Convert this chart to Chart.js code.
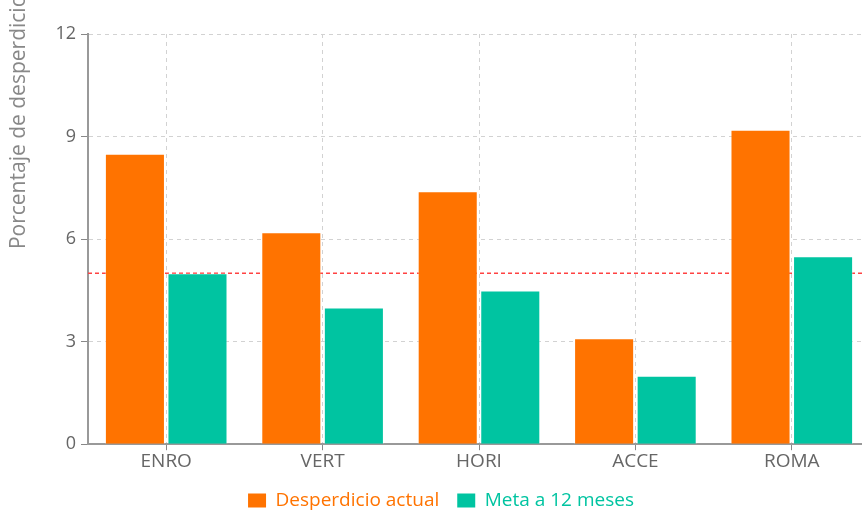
<!DOCTYPE html>
<html>
<head>
<meta charset="utf-8">
<script src="https://cdn.jsdelivr.net/npm/chart.js@4.4.1/dist/chart.umd.min.js"></script>
<style>
    html, body { margin: 0; padding: 0; background: #fff; overflow: hidden; }
    #wrap { width: 880px; height: 514px; }
</style>
</head>
<body>
<div id="wrap"><canvas id="chart"></canvas></div>
<script>
const categories = ['ENRO', 'VERT', 'HORI', 'ACCE', 'ROMA'];
const actualValues = [8.5, 6.2, 7.4, 3.1, 9.2];
const goalValues = [5.0, 4.0, 4.5, 2.0, 5.5];
const yTicks = [0, 3, 6, 9, 12];
const limitValue = 5;

const orange = '#ff7300';
const teal = '#00c4a1';
const axisTitle = 'Porcentaje de desperdicio (%)';

// linea roja punteada del limite, debajo de las barras
const limitLine = {
    id: 'limitLine',
    beforeDatasetsDraw(chart) {
        const { ctx, chartArea, scales } = chart;
        const y = scales.y.getPixelForValue(limitValue);
        ctx.save();
        ctx.strokeStyle = '#ff4242';
        ctx.lineWidth = 1.5;
        ctx.setLineDash([4, 3]);
        ctx.beginPath();
        ctx.moveTo(chartArea.left, y);
        ctx.lineTo(chartArea.right, y);
        ctx.stroke();
        ctx.restore();
    }
};

// titulo del eje y, empieza cerca del centro y sube
const yTitle = {
    id: 'yTitle',
    afterDraw(chart) {
        const { ctx, chartArea } = chart;
        const y = (chartArea.top + chartArea.bottom) / 2 + 10;
        ctx.save();
        ctx.translate(19, y);
        ctx.rotate(-Math.PI / 2);
        ctx.font = '21px "Open Sans", sans-serif';
        ctx.fillStyle = '#888';
        ctx.textAlign = 'left';
        ctx.textBaseline = 'middle';
        ctx.fillText(axisTitle, 0, 0);
        ctx.restore();
    }
};

Chart.defaults.font.family = '"Open Sans", sans-serif';
Chart.defaults.color = '#666';

new Chart(document.getElementById('chart'), {
    type: 'bar',
    data: {
        labels: categories,
        datasets: [
            {
                label: 'Desperdicio actual',
                data: actualValues,
                backgroundColor: orange,
                borderColor: 'rgba(255,255,255,0.35)',
                borderWidth: 1,
                categoryPercentage: 0.8,
                barPercentage: 0.96
            },
            {
                label: 'Meta a 12 meses',
                data: goalValues,
                backgroundColor: teal,
                borderColor: 'rgba(255,255,255,0.35)',
                borderWidth: 1,
                categoryPercentage: 0.8,
                barPercentage: 0.96
            }
        ]
    },
    options: {
        responsive: true,
        maintainAspectRatio: false,
        animation: false,
        layout: { padding: { left: 12, right: 10, top: 34, bottom: -6 } },
        scales: {
            x: {
                grid: {
                    offset: false,
                    color: '#d2d2d2',
                    tickColor: '#888',
                    tickLength: 6,
                    tickBorderDash: []
                },
                border: { color: '#999', width: 2, dash: [4, 4] },
                ticks: { font: { size: 19 }, color: '#666', padding: 0 }
            },
            y: {
                min: 0,
                max: 12,
                afterBuildTicks(scale) {
                    scale.ticks = yTicks.map(v => ({ value: v }));
                },
                afterFit(scale) {
                    scale.width = 76;
                },
                grid: {
                    color: '#d2d2d2',
                    tickColor: '#888',
                    tickLength: 7,
                    tickBorderDash: []
                },
                border: { color: '#999', width: 2, dash: [4, 4] },
                ticks: { font: { size: 18 }, color: '#666', padding: 5 }
            }
        },
        plugins: {
            legend: {
                position: 'bottom',
                labels: {
                    boxWidth: 18,
                    boxHeight: 14,
                    padding: 18,
                    font: { size: 19 },
                    generateLabels(chart) {
                        return chart.data.datasets.map((ds, i) => ({
                            text: ds.label,
                            fillStyle: ds.backgroundColor,
                            strokeStyle: ds.backgroundColor,
                            lineWidth: 0,
                            fontColor: ds.backgroundColor,
                            hidden: !chart.isDatasetVisible(i),
                            datasetIndex: i
                        }));
                    }
                }
            },
            tooltip: { enabled: false }
        }
    },
    plugins: [limitLine, yTitle]
});
</script>
</body>
</html>
